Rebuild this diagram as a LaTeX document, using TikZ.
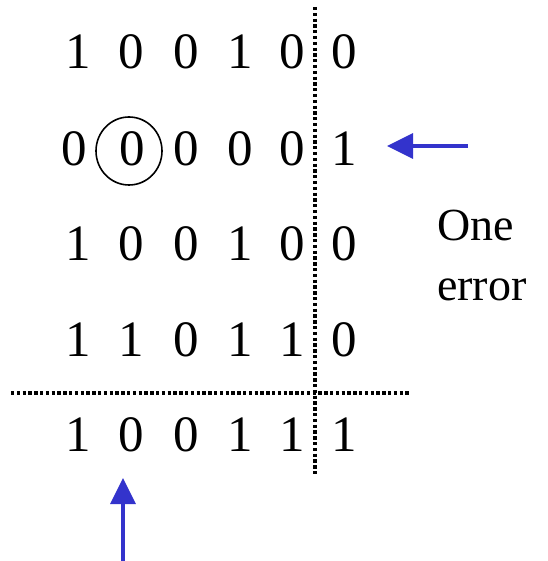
\documentclass[tikz,border=0pt]{standalone}
\usepackage{fontspec}
\setmainfont{Liberation Serif}
\usetikzlibrary{arrows.meta}
\definecolor{arrowblue}{RGB}{51,51,204}
\begin{document}
\begin{tikzpicture}[x=1pt,y=1pt,
  digit/.style={inner sep=0pt,font=\rmfamily\fontsize{51}{60}\selectfont},
  note/.style={inner sep=0pt,anchor=base west,font=\rmfamily\fontsize{46}{60}\selectfont},
  dotline/.style={line width=3.4pt,dash pattern=on 3.3pt off 2.5pt},
  bluearrow/.style={arrowblue,line width=3.5pt,-{Triangle[length=26pt,width=25pt]}}]
\useasboundingbox (0,0) rectangle (547,-561);
% row 1
\node[digit] (a1) at (78,-52) {1};
\node[digit] (a2) at (131,-52) {0};
\node[digit] (a3) at (186,-52) {0};
\node[digit] (a4) at (240,-52) {1};
\node[digit] (a5) at (292,-52) {0};
\node[digit] (a6) at (344,-52) {0};
% row 2
\node[digit] (b1) at (74,-149) {0};
\node[digit] (b2) at (132,-149) {0};
\node[digit] (b3) at (186,-149) {0};
\node[digit] (b4) at (240,-149) {0};
\node[digit] (b5) at (292,-149) {0};
\node[digit] (b6) at (344,-149) {1};
% row 3
\node[digit] (c1) at (78,-244) {1};
\node[digit] (c2) at (131,-244) {0};
\node[digit] (c3) at (186,-244) {0};
\node[digit] (c4) at (240,-244) {1};
\node[digit] (c5) at (292,-244) {0};
\node[digit] (c6) at (344,-244) {0};
% row 4
\node[digit] (d1) at (78,-340) {1};
\node[digit] (d2) at (131,-340) {1};
\node[digit] (d3) at (186,-340) {0};
\node[digit] (d4) at (240,-340) {1};
\node[digit] (d5) at (292,-340) {1};
\node[digit] (d6) at (344,-340) {0};
% row 5
\node[digit] (e1) at (78,-435) {1};
\node[digit] (e2) at (131,-435) {0};
\node[digit] (e3) at (186,-435) {0};
\node[digit] (e4) at (240,-435) {1};
\node[digit] (e5) at (292,-435) {1};
\node[digit] (e6) at (344,-435) {1};
% circle
\draw[line width=1.6pt] (129,-151) ellipse [x radius=33pt, y radius=34pt];
% dotted lines
\coordinate (vt) at (315,-7);
\coordinate (vb) at (315,-475);
\coordinate (hl) at (11,-393);
\coordinate (hr) at (410,-393);
\draw[dotline] (vt) -- (vb);
\draw[dotline] (hl) -- (hr);
% label
\node[note] (one) at (437,-240) {One};
\node[note] (err) at (437,-300) {error};
% arrows
\coordinate (ras) at (468,-146);
\coordinate (rae) at (387,-146);
\coordinate (uas) at (123,-561);
\coordinate (uae) at (123,-478);
\draw[bluearrow] (ras) -- (rae);
\draw[bluearrow] (uas) -- (uae);
\end{tikzpicture}
\end{document}
